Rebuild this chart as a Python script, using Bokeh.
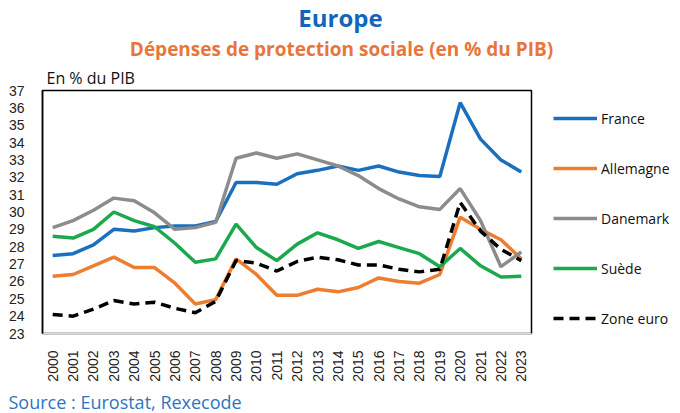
import math
from bokeh.plotting import figure
from bokeh.layouts import column, row
from bokeh.models import (Range1d, FixedTicker, LinearAxis, Legend, LegendItem,
                          BasicTickFormatter, Label, Title)
from bokeh.embed import file_html
from bokeh.resources import INLINE

years = list(range(2000, 2024))
france = [27.5, 27.6, 28.1, 29.0, 28.9, 29.1, 29.2, 29.2, 29.45, 31.7, 31.7, 31.6,
          32.2, 32.4, 32.65, 32.4, 32.65, 32.3, 32.1, 32.05, 36.3, 34.2, 33.0, 32.3]
allemagne = [26.3, 26.4, 26.9, 27.4, 26.8, 26.8, 25.9, 24.7, 24.95, 27.3, 26.4, 25.2,
             25.2, 25.55, 25.4, 25.65, 26.2, 26.0, 25.9, 26.4, 29.7, 29.0, 28.4, 27.3]
danemark = [29.1, 29.5, 30.1, 30.8, 30.65, 29.95, 29.0, 29.1, 29.4, 33.1, 33.4, 33.1,
            33.35, 33.0, 32.65, 32.1, 31.35, 30.75, 30.3, 30.15, 31.35, 29.5, 26.85, 27.7]
suede = [28.6, 28.5, 29.0, 30.0, 29.5, 29.15, 28.2, 27.1, 27.3, 29.3, 27.95, 27.2,
         28.15, 28.8, 28.4, 27.9, 28.3, 27.95, 27.6, 26.85, 27.9, 26.9, 26.25, 26.3]
zone_euro = [24.1, 24.0, 24.4, 24.9, 24.7, 24.8, 24.45, 24.2, 24.85, 27.2, 27.05, 26.6,
             27.15, 27.4, 27.25, 26.95, 26.95, 26.7, 26.55, 26.7, 30.55, 28.9, 27.85, 27.2]

y_ticks = list(range(23, 38))

series_names = ["France", "Allemagne", "Danemark", "Suède", "Zone euro"]
series_values = [france, allemagne, danemark, suede, zone_euro]
colors = ["#1a6fbf", "#ed7d31", "#8c8c8c", "#1ca84c", "#000000"]
dashes = ["solid", "solid", "solid", "solid", "10 6"]


def blank_fig(w, h):
    f = figure(width=w, height=h, output_backend="svg", toolbar_location=None,
               x_range=Range1d(0, 1), y_range=Range1d(0, 1),
               x_axis_type=None, y_axis_type=None,
               min_border_left=0, min_border_right=0, min_border_top=0, min_border_bottom=0)
    f.outline_line_color = None
    f.xgrid.grid_line_color = None
    f.ygrid.grid_line_color = None
    return f


# ---- header
top = blank_fig(680, 60)
top.add_layout(Label(x=340, y=43, x_units="screen", y_units="screen", text="Europe",
                     text_font="Open Sans", text_font_style="bold", text_font_size="24px",
                     text_color="#1166bb", text_align="center", text_baseline="alphabetic"))
top.add_layout(Label(x=341, y=12, x_units="screen", y_units="screen",
                     text="Dépenses de protection sociale (en % du PIB)",
                     text_font="Open Sans", text_font_style="bold", text_font_size="19px",
                     text_color="#e8763a", text_align="center", text_baseline="alphabetic"))

# ---- main chart
p = figure(width=540, height=324, output_backend="svg", toolbar_location=None,
           x_range=Range1d(1999.5, 2023.5), y_range=Range1d(23, 37),
           x_axis_type=None, y_axis_type=None,
           min_border_left=42, min_border_right=9, min_border_top=30, min_border_bottom=48)
p.outline_line_color = "black"
p.outline_line_width = 1.5
p.background_fill_color = "white"

p.add_layout(Title(text="En % du PIB", align="left", offset=4, standoff=3,
                   text_font="Open Sans", text_font_style="normal", text_font_size="16px",
                   text_color="#111111"), "above")

yax = LinearAxis(ticker=FixedTicker(ticks=y_ticks))
yax.axis_line_color = "black"
yax.axis_line_width = 1.5
yax.major_tick_line_color = None
yax.minor_tick_line_color = None
yax.major_label_text_font = "Liberation Sans"
yax.major_label_text_font_size = "14px"
yax.major_label_text_color = "#222222"
yax.major_label_standoff = 12
p.add_layout(yax, "left")

xax = LinearAxis(ticker=FixedTicker(ticks=years), formatter=BasicTickFormatter(use_scientific=False))
xax.axis_line_color = "#d9d9d9"
xax.axis_line_width = 1.5
xax.major_tick_line_color = None
xax.minor_tick_line_color = None
xax.major_label_orientation = math.pi / 2
xax.major_label_text_font = "Liberation Sans"
xax.major_label_text_font_size = "14px"
xax.major_label_text_color = "#222222"
xax.major_label_standoff = 11
p.add_layout(xax, "below")

p.ygrid.ticker = FixedTicker(ticks=y_ticks)
p.ygrid.grid_line_color = "#d9d9d9"
p.ygrid.grid_line_width = 1.5
p.xgrid.grid_line_color = None

for name, vals, col, dash in zip(series_names, series_values, colors, dashes):
    p.line(years, vals, line_color=col, line_width=3.5, line_dash=dash)

# ---- legend panel (series drawn off-range here, only their legend swatches show)
lg = blank_fig(140, 324)
items = []
for name, vals, col, dash in zip(series_names, series_values, colors, dashes):
    r = lg.line(years, vals, line_color=col, line_width=3.5, line_dash=dash)
    items.append(LegendItem(label=name, renderers=[r]))
legend = Legend(items=items, location=(13, 5), orientation="vertical",
                padding=0, margin=0, spacing=30, label_height=20, glyph_height=20,
                glyph_width=44, label_standoff=4,
                label_text_font="Open Sans", label_text_font_size="14px",
                label_text_color="#111111",
                border_line_color=None, background_fill_alpha=0)
lg.add_layout(legend, "center")

# ---- footer
bottom = blank_fig(680, 29)
bottom.add_layout(Label(x=8, y=12, x_units="screen", y_units="screen",
                        text="Source : Eurostat, Rexecode",
                        text_font="Open Sans", text_font_size="18px",
                        text_color="#2e75c0", text_align="left", text_baseline="alphabetic"))

layout = column(top, row(p, lg, spacing=0), bottom, spacing=0)
open("out.html", "w").write(file_html(layout, INLINE))
